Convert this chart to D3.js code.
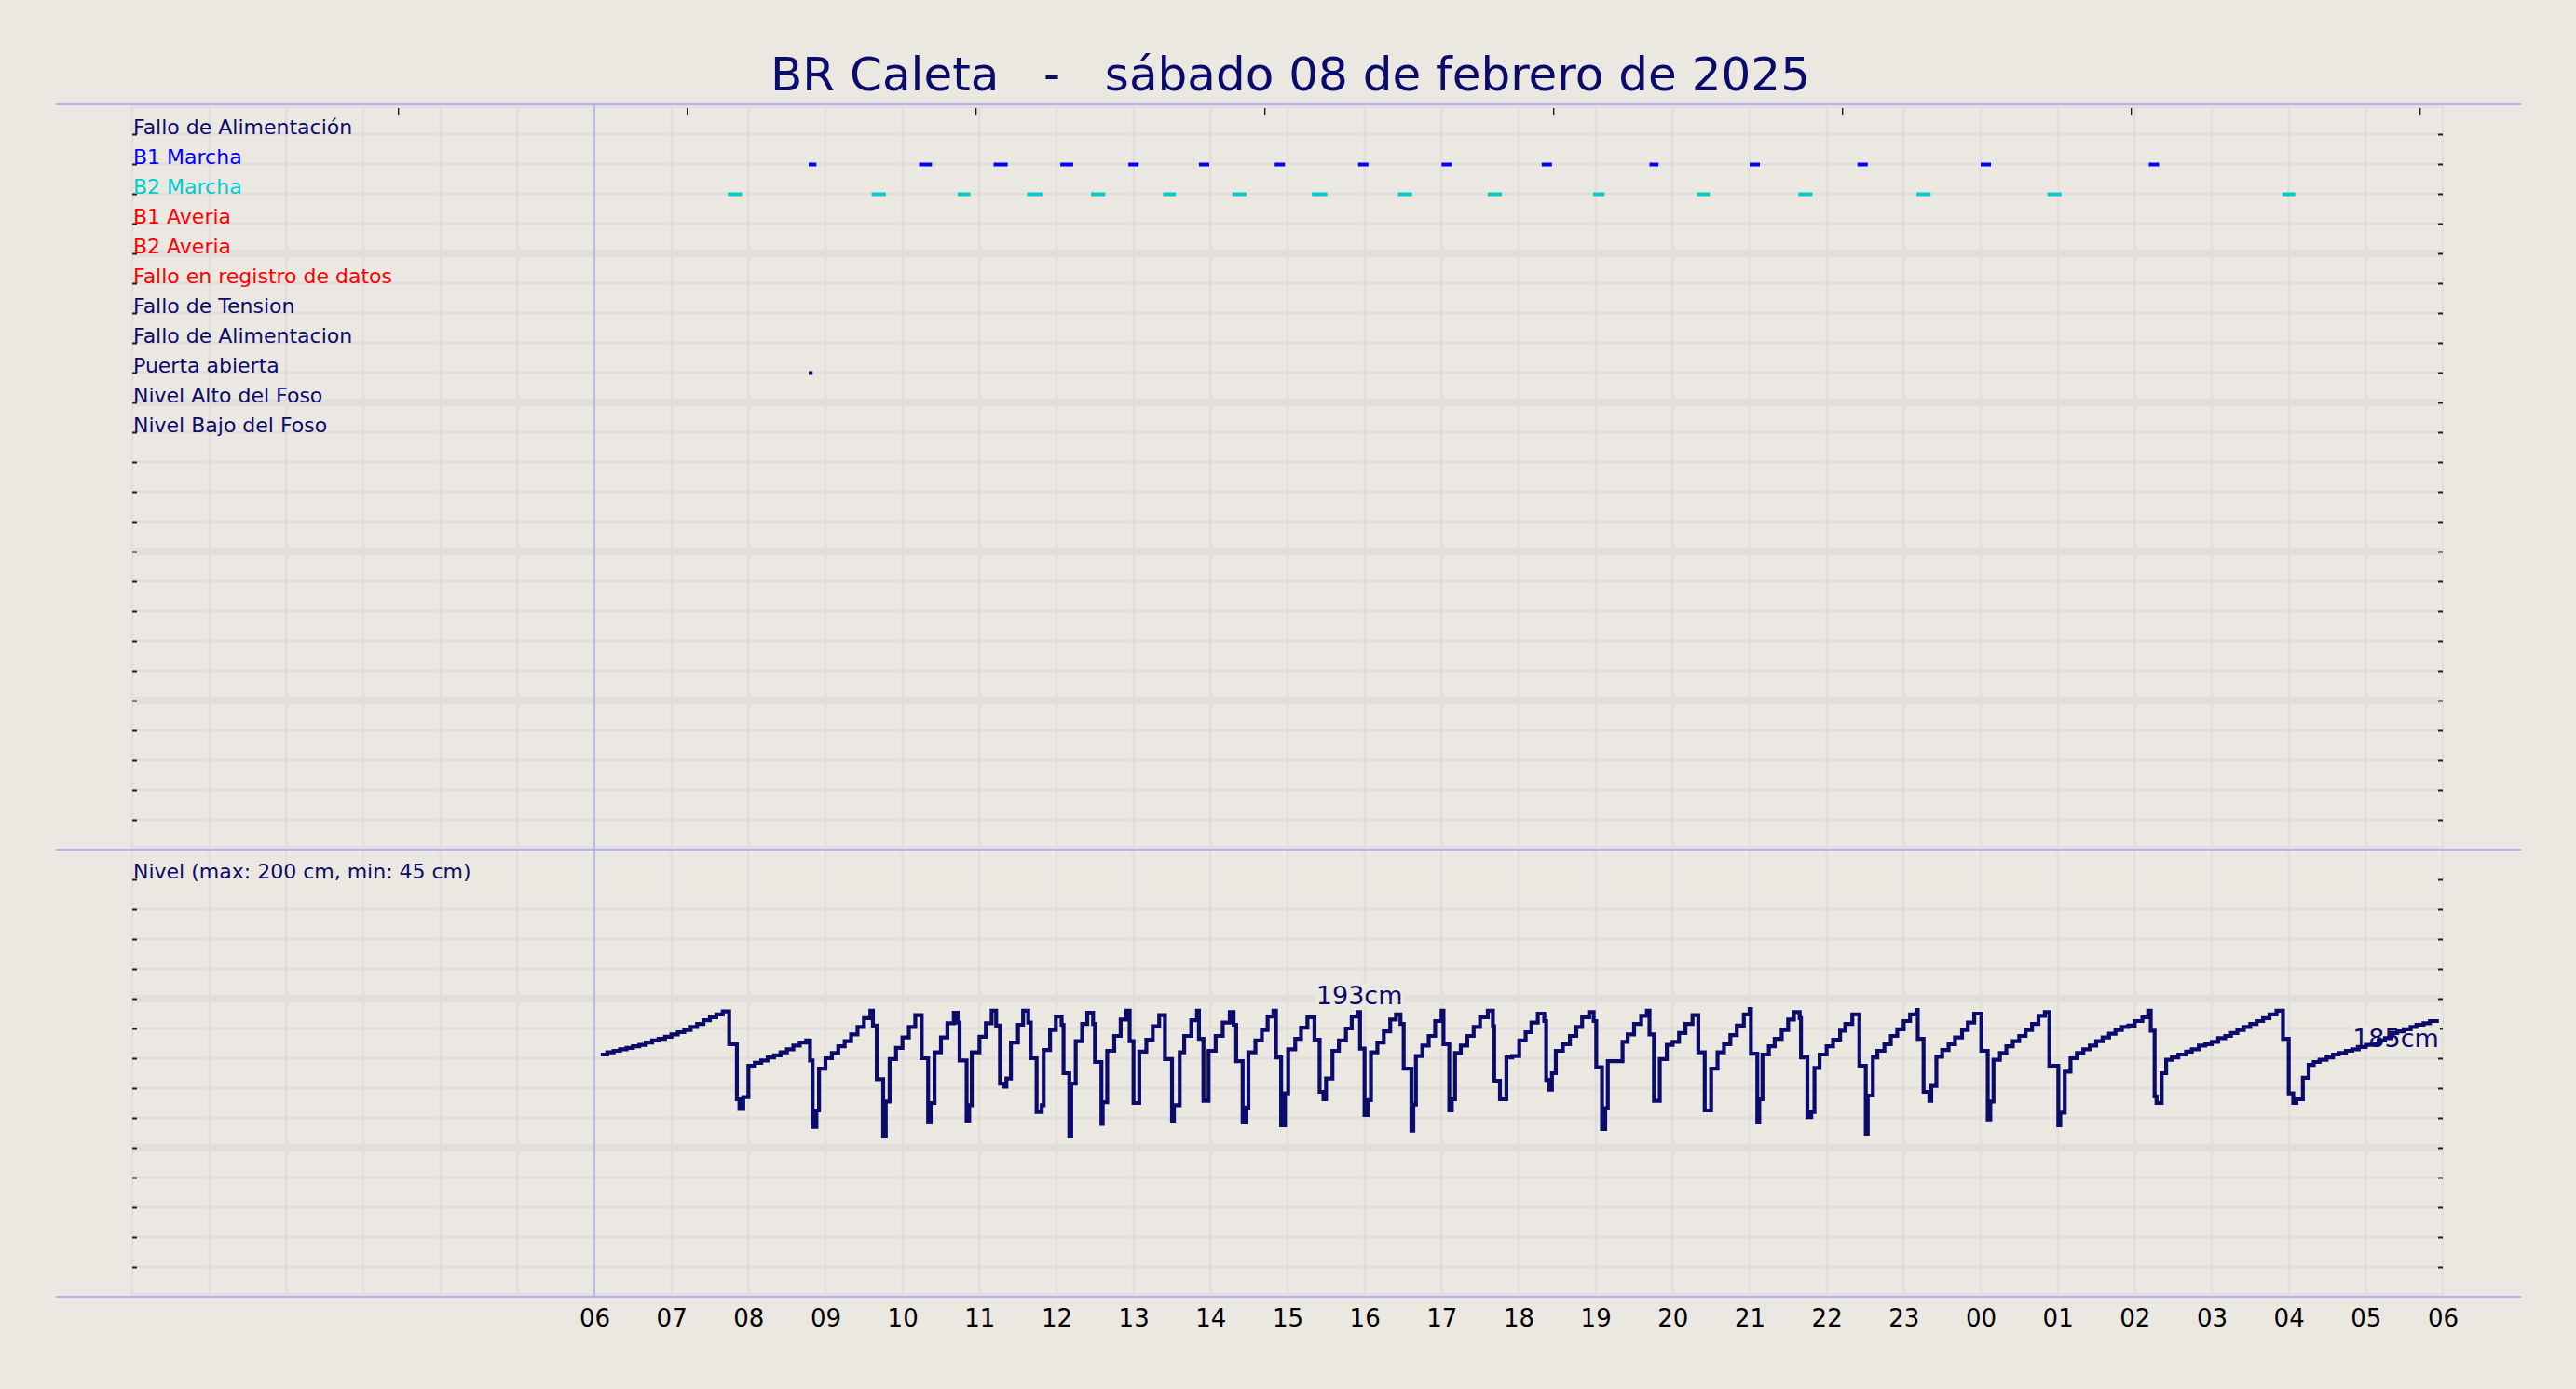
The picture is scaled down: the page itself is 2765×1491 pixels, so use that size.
<!DOCTYPE html>
<html>
<head>
<meta charset="utf-8">
<script src="https://cdn.jsdelivr.net/npm/d3@7"></script>
<style>
html,body{margin:0;padding:0;background:#ebe7e1;}
svg{display:block;}
text{font-family:"DejaVu Sans","Liberation Sans",sans-serif;}
</style>
</head>
<body>
<svg id="chart" width="2765" height="1491"></svg>
<script>
// ---------------- data ----------------
const titleText = "BR Caleta   -   sábado 08 de febrero de 2025";
const rowLabels = ["Fallo de Alimentación","B1 Marcha","B2 Marcha","B1 Averia","B2 Averia",
  "Fallo en registro de datos","Fallo de Tension","Fallo de Alimentacion","Puerta abierta",
  "Nivel Alto del Foso","Nivel Bajo del Foso"];
const rowColors = ["#0b0b6b","#0000ff","#00cccc","#ff0000","#ff0000","#ff0000",
  "#0b0b6b","#0b0b6b","#0b0b6b","#0b0b6b","#0b0b6b"];
const xTickHours = [6,7,8,9,10,11,12,13,14,15,16,17,18,19,20,21,22,23,24,25,26,27,28,29,30];
const xTickLabels = ["06","07","08","09","10","11","12","13","14","15","16","17","18","19","20",
  "21","22","23","00","01","02","03","04","05","06"];
const topTickMinutes = [207,432,657,882,1107,1332,1557,1782];
const nivelLabel = "Nivel (max: 200 cm, min: 45 cm)";
// intervals in minutes since 00:00 of 08/02
const b1Marcha = [[527,533],[613,623],[671,682],[723,733],[776,784],[831,839],[890,898],[955,963],
  [1020,1028],[1098,1106],[1182,1189],[1260,1268],[1344,1352],[1440,1448],[1571,1579]];
const b2Marcha = [[464,475],[576,587],[643,653],[697,709],[747,758],[803,813],[857,868],[919,931],
  [986,997],[1056,1067],[1138,1147],[1219,1229],[1298,1309],[1390,1401],[1492,1503],[1675,1685]];
const puertaAbierta = [[527,530]];
// level (cm) step series: [minute, cm]
const nivel = [
[365,162.5],[370,164],[375,165],[380,166],[385,167],[390,168],[395,169],[400,170.5],[405,172],[410,173],
[415,174.5],[420,176],[425,177.5],[430,179],[435,181],[440,183],[445,185.5],[450,187.5],[455,189.5],[460,191.5],
[465,169.5],[471,132.5],[473,126],[476,134],[480,155],[485,157],[490,158.5],[495,160.5],[500,162],[505,164],
[510,166],[515,168.5],[520,170.5],[525,172],
[528,158.5],[530,114],[533,125],[535,153],[540,160],[545,163.5],[550,168],[555,171.5],[560,176],[565,181],
[570,187],[575,192],[577,182],[580,146],[585,107.5],[587,131],[590,159.5],[595,167],[600,174],[605,181],
[610,189],[615,160],[620,117],[622,130],[625,164],[630,174],[635,183.5],[640,190.5],[643,184],[644.5,158.5],
[650,118],[652,128.5],
[654,164],[660,174.5],[665,183.5],[669.5,192],[673,182],[676,143],[679.5,141],[681,146.5],[684.5,170.5],
[690,182.5],[694,192],[698,184],[700,160],[704.5,124],[708.5,128.5],[710,165.5],[715,179],[719.5,188],
[724,182.5],[725.5,150],[730,107.5],[731.5,143],[735,171.5],[740,183],[744,190.5],[748.5,183],[750,157.5],
[755,116],[756,130.5],[759.5,165],[765,175],[770,186],[774.5,192],[777,171.5],[780,130],[784.5,164.5],
[790,172.5],[795,181.5],[800,189],[804.5,159.5],[810,118],[811.5,128.5],[816,164],[819.5,175],[825,185.5],
[829.5,192],[831,173],[834.5,131.5],[838.5,165],[844,175],[849.5,184],[855,191],[858,182.5],[860,158],
[865,117],[868,127],[869.5,164],[875,172],[880,179],[884.5,188],[889,192],[891,160.5],[895,115],[898,136.5],
[900.5,166],[906,173],[910.5,180.5],[915.5,187.5],[921,172.5],[925,137.5],[928,132.5],[930,146.5],[935,165],
[940,172],[945.5,180],[950,188],
[954.5,191],[956.5,166.5],[960,122],[962.5,132],[965,164],[970,170.5],[975,178],[980,186],[984.5,189.5],
[988,183],[990.5,153],[996.5,111.5],[998,129],[1000,161.5],[1005,168.5],[1010,175],[1015,185],[1020,192],
[1021.5,169.5],[1026,125],[1028,132.5],[1030.5,163.5],[1035,168.5],[1040,175],[1045,181],[1050,187.5],
[1056,192],[1060,181.5],[1061,145],[1065.5,132.5],[1070.5,160.5],[1075,161.5],[1080.5,172],[1085.5,177.5],
[1090,184],[1095,190],[1100,185],[1101.5,145.5],[1104,139],[1106,150],[1109,165],[1114.5,169.5],[1120,175],
[1125,181],[1129.5,187.5],[1135,191],[1138.5,185],[1140.5,154],[1145,112.5],[1147.5,126.5],[1149.5,158],
[1161,171],[1165,176],[1170,183],[1175.5,188.5],[1180,192],[1182,176],[1185.5,131.5],[1190,159.5],
[1195.5,169],[1200,171],[1205,177],[1210,183],[1215.5,189],[1220,164],[1225,125],[1230,153],[1235,164],
[1240,169.5],[1245,175.5],
[1250,182],[1255.5,189.5],[1260,193],[1261,163],[1266,117],[1267.5,132.5],[1270,162.5],[1275,168],
[1279.5,173],[1285,179],[1290,186],[1294.5,191],[1299,187],[1300,160.5],[1305,120.5],[1308,124],
[1310.5,153.5],[1314.5,162.5],[1320,168],[1325,172.5],[1330.5,178.5],[1334.5,183],[1340,189.5],[1345.5,155],
[1350.5,109.5],[1352,135],[1356,160.5],[1359.5,165],[1365,169.5],[1370,175],[1375,179.5],[1380,185],
[1385,189.5],[1390,192.5],[1391,173],[1395.5,137.5],[1400,131.5],[1401.5,141.5],[1405.5,161],[1410,165.5],
[1415,169.5],[1420,174],[1425.5,179],[1430,184],[1435,190],[1440.5,165],[1445.5,119],[1447.5,131],[1450,159],
[1455,163.5],[1460,168],[1465,171.5],[1470,175],[1475,179],[1480,183],[1485,188.5],[1490,191],[1493.5,155],
[1500.5,115],[1502,123.5],[1505.5,151],[1510,160],[1515,163.5],[1520,166],[1525,168.5],[1530,171.5],
[1535,174],[1540,176.5],[1545,179],[1550,181],
[1555,182],[1560,185],[1566,187.5],[1570.5,192],[1572.5,178.5],[1575.5,134.5],[1577,130],[1581,150],
[1584.5,159],[1589,160.5],[1594,162.5],[1600,164.5],[1604.5,166],[1610,168.5],[1615,169.5],[1620,171],
[1625,173.5],[1630.5,175],[1635,177],[1640,179],[1645,181],[1650,183],[1655,185],[1660,187],[1665,189.5],
[1670.5,192],[1675.5,173],[1680,136.5],[1683.5,130],[1686,132.5],[1691,147],[1695.5,155.5],[1699.5,157.5],
[1704,159],[1709.5,160.5],[1714.5,162.5],[1719,163.5],[1724.5,165],[1729.5,166],[1734.5,167.5],[1740,169],
[1745,170],[1750,172],[1755,173.5],[1760,177],[1764.5,178],[1769.5,179.5],[1775,181],[1779.5,182.5],
[1785,183.5],[1790,185],[1797,185]
];
const maxLabel = {minute: 956, cm: 193, text: "193cm"};
const lastLabel = {text: "185cm"};

// ---------------- layout ----------------
const W = 2765, H = 1491;
const bg = "#ebe7e1", gridC = "#e2dedc", lav = "#b0b0ff", navy = "#0b0b6b";
const svg = d3.select("#chart");
svg.append("rect").attr("width", W).attr("height", H).attr("fill", bg);

const x = d3.scaleLinear().domain([0, 1800]).range([142, 2622]);
const yTop = d3.scaleLinear().domain([0, 25]).range([112, 912]);
const yBot = d3.scaleLinear().domain([0, 300]).range([1392, 912]);

const defs = svg.append("defs");
defs.append("clipPath").attr("id","clipTop").append("rect")
  .attr("x", x(0)).attr("y", yTop(0)).attr("width", x(1800)-x(0)).attr("height", yTop(25)-yTop(0));
defs.append("clipPath").attr("id","clipBot").append("rect")
  .attr("x", x(0)).attr("y", yBot(300)).attr("width", x(1800)-x(0)).attr("height", yBot(0)-yBot(300));

// vertical hourly grid
const hours = d3.range(0, 31);
svg.append("g").selectAll("line").data(hours).join("line")
  .attr("x1", d => x(d*60)).attr("x2", d => x(d*60))
  .attr("y1", yTop(0)).attr("y2", yBot(0))
  .attr("stroke", gridC).attr("stroke-width", 2.5);

// upper panel horizontal grid
const gTop = svg.append("g").attr("clip-path","url(#clipTop)");
gTop.selectAll("line").data(d3.range(0, 26)).join("line")
  .attr("x1", x(0)).attr("x2", x(1800))
  .attr("y1", d => yTop(d)).attr("y2", d => yTop(d))
  .attr("stroke", gridC).attr("stroke-width", d => d % 5 === 0 ? 8 : 3);

// lower panel horizontal grid
const botLines = [0,20,40,60,80,100,120,140,160,180,200,220,240,260];
const gBot = svg.append("g").attr("clip-path","url(#clipBot)");
gBot.selectAll("line").data(botLines).join("line")
  .attr("x1", x(0)).attr("x2", x(1800))
  .attr("y1", d => yBot(d)).attr("y2", d => yBot(d))
  .attr("stroke", gridC).attr("stroke-width", d => d % 100 === 0 ? 8 : 3);

// inner ticks left/right
function tickAxes(scale, values) {
  const l = svg.append("g").attr("transform", `translate(${x(0)},0)`)
    .call(d3.axisRight(scale).tickValues(values).tickSize(5).tickFormat(""));
  const r = svg.append("g").attr("transform", `translate(${x(1800)},0)`)
    .call(d3.axisLeft(scale).tickValues(values).tickSize(5).tickFormat(""));
  [l, r].forEach(g => {
    g.select(".domain").remove();
    g.selectAll(".tick line").attr("stroke", "#222").attr("stroke-width", 2);
  });
}
tickAxes(yTop, d3.range(1, 25));
tickAxes(yBot, [20,40,60,80,100,120,140,160,180,200,220,240,260,280]);

// top ticks
const topAx = svg.append("g").attr("transform", `translate(0,${yTop(0)+4})`)
  .call(d3.axisBottom(x).tickValues(topTickMinutes).tickSize(7).tickFormat(""));
topAx.select(".domain").remove();
topAx.selectAll(".tick line").attr("stroke", "#111").attr("stroke-width", 1.3);

// lavender frame lines
[yTop(0), yBot(300), yBot(0)].forEach(yy => {
  svg.append("line").attr("x1", 60).attr("x2", 2706).attr("y1", yy).attr("y2", yy)
    .attr("stroke", lav).attr("stroke-width", 2);
});
svg.append("line").attr("x1", x(360)).attr("x2", x(360)).attr("y1", yTop(0)).attr("y2", yBot(0))
  .attr("stroke", lav).attr("stroke-width", 1.6);

// title
svg.append("text").attr("x", 1385).attr("y", 97).attr("text-anchor","middle")
  .attr("font-size", 50).attr("fill", navy).style("white-space","pre").text(titleText);

// row labels
svg.append("g").selectAll("text").data(rowLabels).join("text")
  .attr("x", 143).attr("y", (d,i) => yTop(i+1) - 0.5)
  .attr("font-size", 22).attr("fill", (d,i) => rowColors[i]).text(d => d);

// event marks
function marks(data, row, color) {
  svg.append("g").selectAll("rect").data(data).join("rect")
    .attr("x", d => x(d[0])).attr("width", d => Math.max(3, x(d[1]) - x(d[0])))
    .attr("y", yTop(row) - 1.5).attr("height", 4).attr("fill", color);
}
marks(b1Marcha, 2, "#0000ff");
marks(b2Marcha, 3, "#00cccc");
marks(puertaAbierta, 9, navy);

// level panel label
svg.append("text").attr("x", 143).attr("y", 943).attr("font-size", 22).attr("fill", navy).text(nivelLabel);

// value labels with background boxes
function boxedLabel(tx, ty, anchor, txt) {
  const g = svg.append("g");
  const t = g.append("text").attr("x", tx).attr("y", ty).attr("text-anchor", anchor)
    .attr("font-size", 27).attr("fill", navy).text(txt);
  const bb = t.node().getBBox();
  g.insert("rect", "text").attr("x", bb.x - 1).attr("y", bb.y + 2).attr("width", bb.width + 2)
    .attr("height", bb.height - 4).attr("fill", bg);
}
boxedLabel(x(maxLabel.minute), yBot(maxLabel.cm) - 5.5, "middle", maxLabel.text);
const last = nivel[nivel.length - 1];
boxedLabel(x(last[0]), yBot(last[1]) + 28, "end", lastLabel.text);

// level line
const line = d3.line().x(d => x(d[0])).y(d => yBot(d[1])).curve(d3.curveStepAfter);
svg.append("path").datum(nivel).attr("d", line)
  .attr("fill", "none").attr("stroke", navy).attr("stroke-width", 4.2)
  .attr("stroke-linejoin", "miter").attr("stroke-linecap", "butt");

// bottom x axis labels
const xAx = svg.append("g").attr("transform", `translate(0,${yBot(0)})`)
  .call(d3.axisBottom(x).tickValues(xTickHours.map(h => h*60)).tickSize(0).tickPadding(13.5)
    .tickFormat((d,i) => xTickLabels[i]));
xAx.select(".domain").remove();
xAx.selectAll("text").attr("font-size", 26).attr("fill", "#000")
  .attr("font-family", "DejaVu Sans, sans-serif");
</script>
</body>
</html>
